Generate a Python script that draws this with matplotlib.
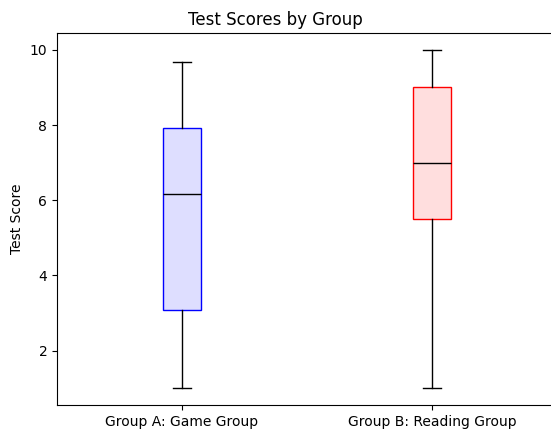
import matplotlib
matplotlib.use("Agg")
import matplotlib.pyplot as plt

groups = ['Group A: Game Group', 'Group B: Reading Group']
whisker_low = [1.0, 1.0]
q1 = [3.09, 5.5]
medians = [6.17, 7.0]
q3 = [7.91, 9.0]
whisker_high = [9.67, 10.0]
face_colors = ['#dedeff', '#ffdede']
edge_colors = ['blue', 'red']

stats = []
for i, g in enumerate(groups):
    stats.append({'label': g, 'whislo': whisker_low[i], 'q1': q1[i], 'med': medians[i],
                  'q3': q3[i], 'whishi': whisker_high[i], 'fliers': []})

fig = plt.figure(figsize=(5.51, 4.32), dpi=100)
# axes run past the right edge of the figure, as in the cropped original
ax = fig.add_axes([57 / 551, 1 - 405 / 432, 520 / 551, 372 / 432])
bp = ax.bxp(stats, widths=0.15, patch_artist=True, showfliers=False,
            medianprops={'color': 'black'})
for box, fc, ec in zip(bp['boxes'], face_colors, edge_colors):
    box.set_facecolor(fc)
    box.set_edgecolor(ec)

ax.set_xlim(0.5, 0.5 + 520 / 250)
ax.set_ylim(0.55, 10.45)
ax.set_yticks([2, 4, 6, 8, 10])
ax.set_title('Test Scores by Group', x=(551 / 2 - 57) / 520)
ax.set_ylabel('Test Score')
fig.savefig('out.png', dpi=100)
